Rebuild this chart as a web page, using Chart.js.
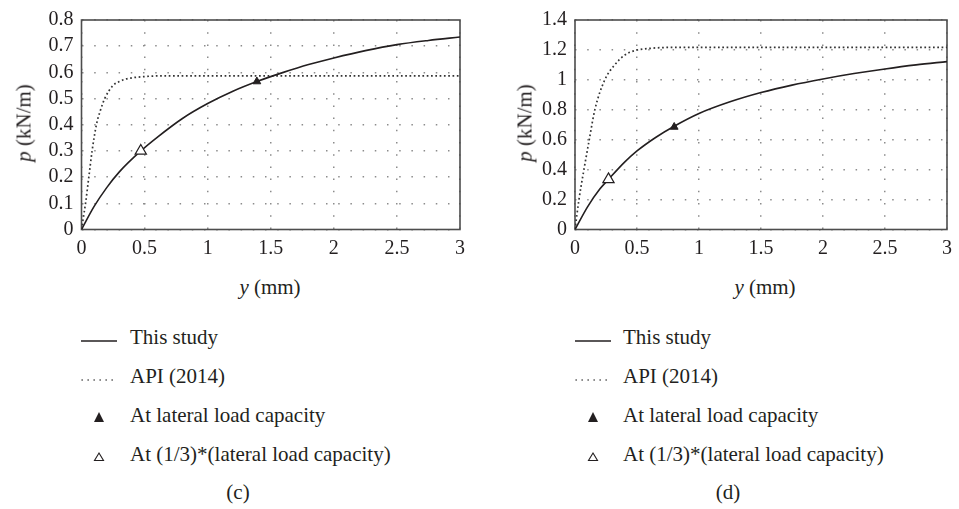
<!DOCTYPE html>
<html>
<head>
<meta charset="utf-8">
<script src="https://cdn.jsdelivr.net/npm/chart.js@4.4.1/dist/chart.umd.min.js"></script>
<style>
  body { margin: 0; background: #fff; width: 959px; height: 509px; position: relative; overflow: hidden;
         font-family: 'Liberation Serif', 'Times New Roman', serif; color: #231f20; }
  canvas { position: absolute; top: 0; }
  .t { position: absolute; font-size: 21px; line-height: 1; white-space: nowrap; transform: translate(-50%, -50%); }
  .rot { transform: translate(-50%, -50%) rotate(-90deg); }
  .leg { position: absolute; font-size: 21px; line-height: 1; white-space: nowrap; transform: translateY(-50%); }
  .sw { position: absolute; }
</style>
</head>
<body>
<canvas id="chart-c" width="480" height="270" style="left:0"></canvas>
<canvas id="chart-d" width="479" height="270" style="left:480px"></canvas>

<div class="t rot" style="left:24px;top:123px"><i>p</i> (kN/m)</div>
<div class="t rot" style="left:525px;top:123px"><i>p</i> (kN/m)</div>
<div class="t" style="left:270px;top:287px"><i>y</i> (mm)</div>
<div class="t" style="left:765px;top:287px"><i>y</i> (mm)</div>
<div class="t" style="left:238px;top:492px">(c)</div>
<div class="t" style="left:728px;top:492px">(d)</div>
<div id="legend-c"></div>
<div id="legend-d"></div>

<script>
// axis ticks
const xTicks = [0, 0.5, 1, 1.5, 2, 2.5, 3];
const pTicksC = [0, 0.1, 0.2, 0.3, 0.4, 0.5, 0.6, 0.7, 0.8];
const pTicksD = [0, 0.2, 0.4, 0.6, 0.8, 1, 1.2, 1.4];

// (c) this study
const studyXC = [0, 0.1, 0.2, 0.3, 0.47, 0.6, 0.8, 1.0, 1.2, 1.39, 1.6, 1.8, 2.0, 2.25, 2.5, 2.75, 3.0];
const studyPC = [0, 0.088, 0.16, 0.22, 0.30, 0.352, 0.424, 0.481, 0.528, 0.565, 0.60, 0.63, 0.655, 0.683, 0.706, 0.722, 0.735];
// (c) API (2014)
const apiXC = [0, 0.016, 0.032, 0.058, 0.084, 0.118, 0.15, 0.184, 0.25, 0.3, 0.355, 0.5, 0.7, 3.0];
const apiPC = [0, 0.05, 0.10, 0.20, 0.30, 0.40, 0.455, 0.50, 0.55, 0.565, 0.575, 0.584, 0.587, 0.587];
// (c) markers
const capXC = [1.39], capPC = [0.565];
const thirdXC = [0.47], thirdPC = [0.30];

// (d) this study
const studyXD = [0, 0.1, 0.2, 0.27, 0.4, 0.5, 0.65, 0.8, 1.0, 1.25, 1.5, 1.75, 2.0, 2.25, 2.5, 2.75, 3.0];
const studyPD = [0, 0.15, 0.27, 0.335, 0.45, 0.525, 0.615, 0.69, 0.775, 0.853, 0.915, 0.965, 1.006, 1.042, 1.073, 1.10, 1.122];
// (d) API (2014)
const apiXD = [0, 0.032, 0.072, 0.115, 0.16, 0.24, 0.32, 0.40, 0.48, 0.6, 0.8, 3.0];
const apiPD = [0, 0.2, 0.4, 0.6, 0.8, 1.0, 1.1, 1.165, 1.195, 1.21, 1.217, 1.217];
// (d) markers
const capXD = [0.80], capPD = [0.685];
const thirdXD = [0.27], thirdPD = [0.335];

const labels = ['This study', 'API (2014)', 'At lateral load capacity', 'At (1/3)*(lateral load capacity)'];

const INK = '#231f20';
const FONT = "'Liberation Serif', 'Times New Roman', serif";

const pts = (xs, ys) => xs.map((x, i) => ({ x, y: ys[i] }));

const frame = {
  id: 'frame',
  beforeDatasetsDraw(chart) {
    const { ctx, chartArea: a } = chart;
    ctx.save();
    ctx.strokeStyle = '#4d4d4d';
    ctx.lineWidth = 1.6;
    ctx.strokeRect(a.left, a.top, a.right - a.left, a.bottom - a.top);
    ctx.restore();
  }
};

function makeChart(id, d, yTicks, yMax, leftW, rightPad) {
  const ctx = document.getElementById(id).getContext('2d');
  return new Chart(ctx, {
    type: 'line',
    data: {
      datasets: [
        { label: labels[0], data: pts(d.sx, d.sp), borderColor: INK, borderWidth: 1.6,
          pointRadius: 0, cubicInterpolationMode: 'monotone', order: 2 },
        { label: labels[1], data: pts(d.ax, d.ap), borderColor: '#333', borderWidth: 1.7,
          borderDash: [1.7, 2.6], pointRadius: 0, cubicInterpolationMode: 'monotone', order: 3 },
        { label: labels[2], data: pts(d.cx, d.cp), showLine: false, pointStyle: 'triangle',
          pointRadius: 4.5, pointBackgroundColor: INK, pointBorderColor: INK, pointBorderWidth: 1, order: 1 },
        { label: labels[3], data: pts(d.tx, d.tp), showLine: false, pointStyle: 'triangle',
          pointRadius: 6.5, pointBackgroundColor: '#fff', pointBorderColor: INK, pointBorderWidth: 1.2, order: 0 }
      ]
    },
    options: {
      responsive: false,
      animation: false,
      layout: { padding: { top: 15.5, right: rightPad, bottom: 0, left: 0 } },
      plugins: { legend: { display: false }, tooltip: { enabled: false } },
      scales: {
        x: {
          type: 'linear', min: 0, max: 3,
          afterBuildTicks: s => { s.ticks = xTicks.map(v => ({ value: v })); },
          afterFit: s => { s.height = 40.5; },
          grid: { color: '#8c8c8c', lineWidth: 1.5, drawTicks: false },
          border: { display: false, dash: [1.5, 10.7] },
          ticks: { color: INK, padding: 7, autoSkip: false, maxRotation: 0,
                   font: { family: FONT, size: 20 }, callback: v => String(v) }
        },
        y: {
          type: 'linear', min: 0, max: yMax,
          afterBuildTicks: s => { s.ticks = yTicks.map(v => ({ value: v })); },
          afterFit: s => { s.width = leftW; },
          grid: { color: '#8c8c8c', lineWidth: 1.5, drawTicks: false },
          border: { display: false, dash: [1.5, 10.7] },
          ticks: { color: INK, padding: 8, autoSkip: false,
                   font: { family: FONT, size: 20 }, callback: v => String(v) }
        }
      }
    },
    plugins: [frame]
  });
}

const chartC = makeChart('chart-c',
  { sx: studyXC, sp: studyPC, ax: apiXC, ap: apiPC, cx: capXC, cp: capPC, tx: thirdXC, tp: thirdPC },
  pTicksC, 0.8, 81.5, 20);
const chartD = makeChart('chart-d',
  { sx: studyXD, sp: studyPD, ax: apiXD, ap: apiPD, cx: capXD, cp: capPD, tx: thirdXD, tp: thirdPD },
  pTicksD, 1.4, 95, 6);

// html legend below each panel, built from the dataset labels
const swatches = [
  '<svg width="36" height="10"><line x1="0" y1="5" x2="36" y2="5" stroke="#231f20" stroke-width="1.6"/></svg>',
  '<svg width="36" height="10"><line x1="0.5" y1="5" x2="36" y2="5" stroke="#444" stroke-width="1.3" stroke-dasharray="1.3,4.7"/></svg>',
  '<svg width="36" height="12"><polygon points="18,1 23,11 13,11" fill="#231f20"/></svg>',
  '<svg width="36" height="12"><polygon points="18,3 22.5,10.5 13.5,10.5" fill="#fff" stroke="#231f20" stroke-width="1.1"/></svg>'
];
const rowY = [337, 376, 415, 454];

function buildLegend(el, chart, x0, textX) {
  const box = document.getElementById(el);
  chart.data.datasets.forEach((ds, i) => {
    const sw = document.createElement('div');
    sw.className = 'sw';
    sw.style.left = x0 + 'px';
    sw.style.top = (rowY[i] - (i < 2 ? 5 : 6)) + 'px';
    sw.innerHTML = swatches[i];
    box.appendChild(sw);
    const tx = document.createElement('div');
    tx.className = 'leg';
    tx.style.left = textX + 'px';
    tx.style.top = rowY[i] + 'px';
    tx.textContent = ds.label;
    box.appendChild(tx);
  });
}

buildLegend('legend-c', chartC, 81, 130);
buildLegend('legend-d', chartD, 575, 623);
</script>
</body>
</html>
